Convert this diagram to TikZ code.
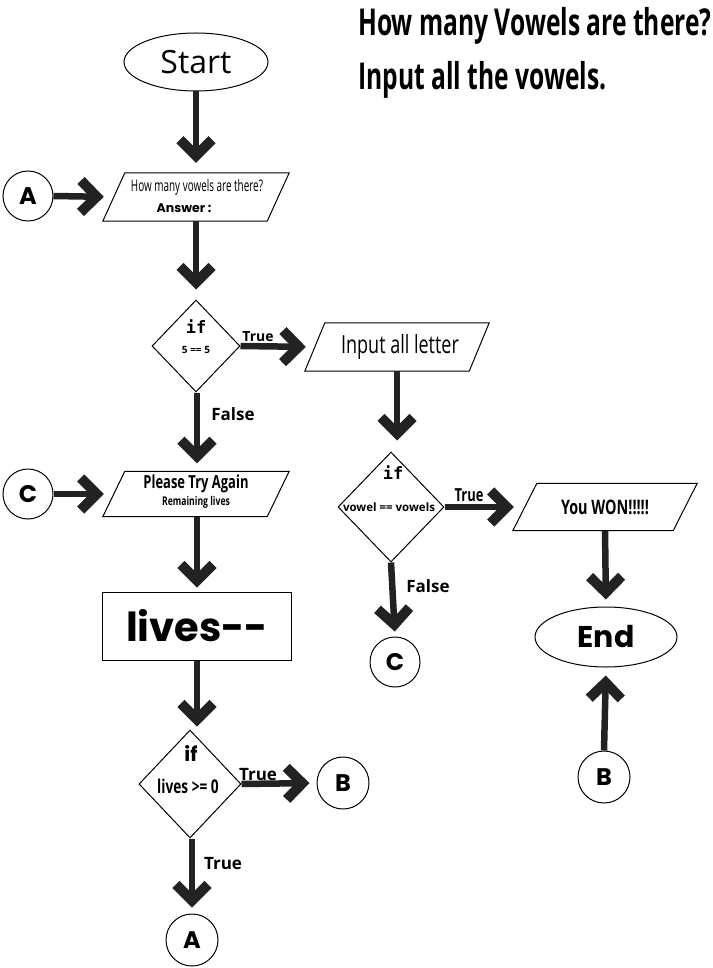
\documentclass[tikz,border=0pt]{standalone}
\usepackage{fontspec}
\setmainfont{Open Sans}
\newfontfamily\osc[FakeStretch=0.72]{Open Sans}
\newfontfamily\oscc[FakeStretch=0.62]{Open Sans}
\newfontfamily\osct[FakeStretch=0.665]{Open Sans}
\newfontfamily\pop{Poppins}
\newfontfamily\dmono{DejaVu Sans Mono}
\usetikzlibrary{shapes.geometric,arrows.meta,calc}
\definecolor{ink}{RGB}{34,34,34}
\newcommand{\fs}[1]{\fontsize{#1}{#1}\selectfont}
% parallelogram drawn round an invisible rectangle node
\newcommand{\paradraw}[2]{%
  \draw[line width=1pt] ([xshift=-#2]#1.south west) -- ([xshift=-#2]#1.south east)
    -- ([xshift=#2]#1.north east) -- ([xshift=#2]#1.north west) -- cycle;}
\begin{document}
\begin{tikzpicture}[x=1pt,y=-1pt,
  fat/.style={line width=6.5pt, draw=ink, -{Straight Barb[length=16pt,width=32pt,line width=10pt]}},
  para/.style={rectangle, minimum height=48pt, inner sep=0pt},
  dia/.style={draw, diamond, line width=1pt, inner sep=0pt},
  circ/.style={draw, circle, line width=1pt, minimum size=50pt, inner sep=0pt, font=\pop\bfseries\fs{24}},
  term/.style={draw, ellipse, line width=1pt, inner sep=0pt},
  lbl/.style={font=\bfseries\fs{17}, inner sep=0pt}]
\useasboundingbox (0,0) rectangle (712,968);

% title
\node[anchor=west, inner sep=0pt, font=\osct\bfseries\fs{37}] (t1) at (358,26) {How many Vowels are there?};
\node[anchor=west, inner sep=0pt, font=\osct\bfseries\fs{37}] (t2) at (358,80) {Input all the vowels.};

% nodes
\node[term, minimum width=144pt, minimum height=58pt, font=\fs{32}] (start) at (196,62) {Start};
\node[para, minimum width=164pt] (p1) at (196,197) {};
\paradraw{p1}{11pt}
\node[inner sep=0pt, font=\oscc\fs{16}] (p1a) at (197,187) {How many vowels are there?};
\node[inner sep=0pt, font=\pop\bfseries\fs{12.5}] (p1b) at (184,208) {Answer :};
\node[circ] (Al) at (28,196) {A};

\node[dia, minimum width=88pt, minimum height=92pt] (d1) at (196,346) {};
\node[inner sep=0pt, font=\dmono\bfseries\fs{17}] (d1a) at (196,327) {if};
\node[inner sep=0pt, font=\bfseries\fs{10}] (d1b) at (196,350) {5 == 5};

\node[para, minimum width=164pt] (p2) at (397,347) {};
\paradraw{p2}{10pt}
\node[inner sep=0pt, font=\osc\fs{25}] (p2a) at (400,347) {Input all letter};

\node[dia, minimum width=106pt, minimum height=110pt] (d2) at (391,507) {};
\node[inner sep=0pt, font=\dmono\bfseries\fs{17}] (d2a) at (393,473) {if};
\node[inner sep=0pt, font=\bfseries\fs{11.5}] (d2b) at (389,507) {vowel == vowels};

\node[para, minimum width=160pt, minimum height=47pt] (p3) at (605,507) {};
\paradraw{p3}{12pt}
\node[inner sep=0pt, font=\osc\bfseries\fs{20}] (p3a) at (605,507) {You WON!!!!!};

\node[term, minimum width=142pt, minimum height=60pt, font=\pop\bfseries\fs{30}] (end) at (606,637) {End};
\node[circ, minimum size=52pt] (Br) at (604,777) {B};
\node[circ, minimum size=50pt] (Cm) at (395,662) {C};

\node[para, minimum width=164pt, minimum height=45pt] (p4) at (196,494) {};
\paradraw{p4}{11pt}
\node[inner sep=0pt, font=\osc\bfseries\fs{18}] (p4a) at (196,484) {Please Try Again};
\node[inner sep=0pt, font=\osc\bfseries\fs{12}] (p4b) at (196,502) {Remaining lives};
\node[circ] (Cl) at (28,494) {C};

\node[draw, line width=1pt, minimum width=189pt, minimum height=68pt, inner sep=0pt, font=\pop\bfseries\fs{40}] (lives) at (197,626) {lives--};

\node[dia, minimum width=102pt, minimum height=108pt] (d3) at (190,784) {};
\node[inner sep=0pt, font=\pop\bfseries\fs{20}] (d3a) at (191,753) {if};
\node[inner sep=0pt, font=\osc\bfseries\fs{19}] (d3b) at (188,786) {lives >= 0};
\node[circ, minimum size=52pt] (Bm) at (343,783) {B};
\node[circ, minimum size=52pt] (Ab) at (192,940) {A};

% labels
\node[inner sep=0pt, font=\bfseries\fs{14}] (l1) at (258,337) {True};
\node[lbl] (l2) at (233,414) {False};
\node[inner sep=0pt, font=\osc\bfseries\fs{18}] (l3) at (469,495) {True};
\node[lbl] (l4) at (428,586) {False};
\node[lbl] (l5) at (258,775) {True};
\node[lbl] (l6) at (223,864) {True};

% connectors
\draw[fat, shorten >=10pt] (start.south) -- (p1.north);
\draw[fat, shorten >=10pt] (Al.east) -- (p1.west);
\draw[fat, shorten >=10pt] (p1.south) -- (d1.north);
\draw[fat, shorten >=9pt] (d1.east) -- (p2.west);
\draw[fat, shorten >=11pt] (p2.south) -- (p2.south |- d2.north);
\draw[fat, shorten >=11pt] (d2.east) -- (p3.west);
\draw[fat, shorten >=7pt] (p3.south) -- (end.north);
\draw[fat, shorten >=8pt] (Br.north) -- (end.south);
\draw[fat, shorten >=5pt] (d2.south) -- (Cm.north);
\draw[fat, shorten >=8pt] ($(d1.south)+(1,0)$) -- ($(p4.north)+(1,0)$);
\draw[fat, shorten >=10pt] (Cl.east) -- (p4.west);
\draw[fat, shorten >=4pt] ($(p4.south)+(1,0)$) -- ($(lives.north)$);
\draw[fat, shorten >=3pt] (lives.south) -- (lives.south |- d3.north);
\draw[fat, shorten >=7pt] (d3.east) -- (Bm.west);
\draw[fat, shorten >=6pt] ($(d3.south)+(2,0)$) -- (Ab.north);
\end{tikzpicture}
\end{document}
